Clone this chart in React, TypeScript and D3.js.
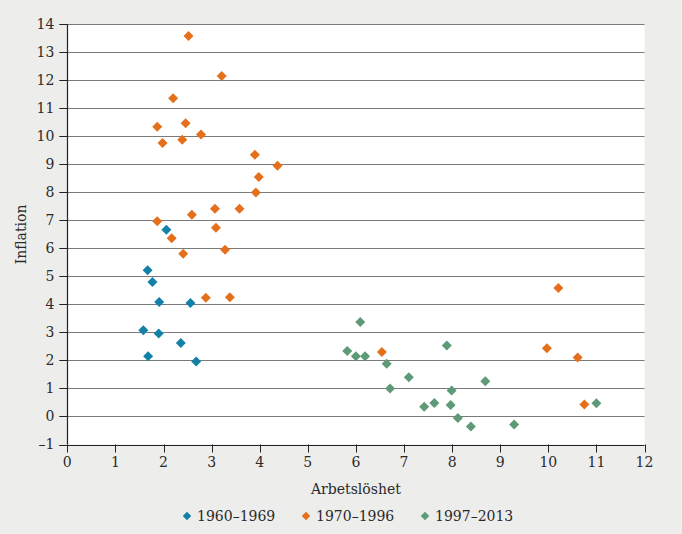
import React from "react";
import * as d3 from "d3";

const xTicks = [0, 1, 2, 3, 4, 5, 6, 7, 8, 9, 10, 11, 12];
const yTicks = [-1, 0, 1, 2, 3, 4, 5, 6, 7, 8, 9, 10, 11, 12, 13, 14];

const seriesNames = ["1960–1969", "1970–1996", "1997–2013"];
const seriesColors = ["#1380a8", "#e5701c", "#5e9a78"];

const blueX = [2.06, 1.67, 1.77, 1.91, 2.56, 1.58, 1.90, 2.36, 1.68, 2.68];
const blueY = [6.67, 5.22, 4.80, 4.09, 4.05, 3.08, 2.96, 2.62, 2.15, 1.96];

const orangeX = [2.52, 3.21, 2.20, 1.87, 2.46, 2.78, 1.98, 2.39, 1.87, 2.59, 3.07, 3.58, 3.09, 2.17, 2.41, 3.28, 3.90, 4.37, 3.98, 3.92, 2.88, 3.38, 10.21, 6.54, 9.97, 10.61, 10.75];
const orangeY = [13.58, 12.15, 11.36, 10.34, 10.47, 10.07, 9.76, 9.88, 6.97, 7.20, 7.42, 7.42, 6.74, 6.36, 5.81, 5.95, 9.34, 8.95, 8.55, 8.0, 4.24, 4.26, 4.59, 2.30, 2.44, 2.11, 0.43];

const greenX = [6.09, 5.82, 6.00, 6.19, 6.64, 7.10, 6.71, 7.89, 8.69, 7.99, 7.42, 7.63, 7.97, 8.12, 8.39, 9.29, 11.0];
const greenY = [3.37, 2.34, 2.15, 2.15, 1.88, 1.40, 1.0, 2.53, 1.26, 0.93, 0.35, 0.48, 0.41, -0.05, -0.36, -0.29, 0.47];

const seriesX = [blueX, orangeX, greenX];
const seriesY = [blueY, orangeY, greenY];

const W = 682;
const H = 534;
const margin = { left: 67.3, right: 682 - 644.5, top: 24.3, bottom: 534 - 444.5 };
const FONT = "'DejaVu Serif', serif";
const TEXT = "#2a2a2a";

export default function App() {
  const x = d3.scaleLinear().domain([0, 12]).range([margin.left, W - margin.right]);
  const y = d3.scaleLinear().domain([-1, 14]).range([H - margin.bottom, margin.top]);
  const diamond = d3.symbol(d3.symbolSquare, 50)();
  const legendDiamond = d3.symbol(d3.symbolSquare, 36)();
  const legendX = [187, 306, 425];

  return (
    <svg width={W} height={H} style={{ position: "absolute", left: 0, top: 0, background: "#ededeb" }}>
      <rect x={x(0)} y={y(14)} width={x(12) - x(0)} height={y(-1) - y(14)} fill="#ffffff" />
      {yTicks.map((t) => (
        <g key={"y" + t}>
          {t > -1 && (
            <line x1={x(0)} x2={x(12)} y1={Math.round(y(t)) + 0.5} y2={Math.round(y(t)) + 0.5} stroke="#7a7a7a" strokeWidth={1} />
          )}
          <line x1={x(0) - 8} x2={x(0)} y1={Math.round(y(t)) + 0.5} y2={Math.round(y(t)) + 0.5} stroke="#222" strokeWidth={1} />
          <text x={x(0) - 13} y={y(t)} dy="0.35em" textAnchor="end" fontFamily={FONT} fontSize={14} fill={TEXT}>
            {t < 0 ? "–" + Math.abs(t) : t}
          </text>
        </g>
      ))}
      {xTicks.map((t) => (
        <g key={"x" + t}>
          <line x1={Math.round(x(t)) + 0.5} x2={Math.round(x(t)) + 0.5} y1={y(-1)} y2={y(-1) + 8} stroke="#222" strokeWidth={1} />
          <text x={x(t)} y={y(-1) + 22} textAnchor="middle" fontFamily={FONT} fontSize={14} fill={TEXT}>
            {t}
          </text>
        </g>
      ))}
      <line x1={Math.round(x(0)) + 0.5} x2={Math.round(x(0)) + 0.5} y1={y(14)} y2={y(-1)} stroke="#222" strokeWidth={1.2} />
      <line x1={x(0) - 8} x2={x(12)} y1={Math.round(y(-1)) + 0.5} y2={Math.round(y(-1)) + 0.5} stroke="#222" strokeWidth={1.2} />
      {seriesX.map((xs, si) =>
        xs.map((xv, i) => (
          <path
            key={si + "-" + i}
            d={diamond}
            transform={`translate(${x(xv)},${y(seriesY[si][i])}) rotate(45)`}
            fill={seriesColors[si]}
          />
        ))
      )}
      <text x={(x(0) + x(12)) / 2} y={494} textAnchor="middle" fontFamily={FONT} fontSize={14} fill={TEXT}>
        Arbetslöshet
      </text>
      <text
        transform={`translate(26,${(y(14) + y(-1)) / 2}) rotate(-90)`}
        textAnchor="middle"
        fontFamily={FONT}
        fontSize={14}
        fill={TEXT}
      >
        Inflation
      </text>
      {seriesNames.map((name, i) => (
        <g key={name}>
          <path d={legendDiamond} transform={`translate(${legendX[i]},516) rotate(45)`} fill={seriesColors[i]} />
          <text x={legendX[i] + 10} y={516} dy="0.35em" fontFamily={FONT} fontSize={14} fill={TEXT}>
            {name}
          </text>
        </g>
      ))}
    </svg>
  );
}
